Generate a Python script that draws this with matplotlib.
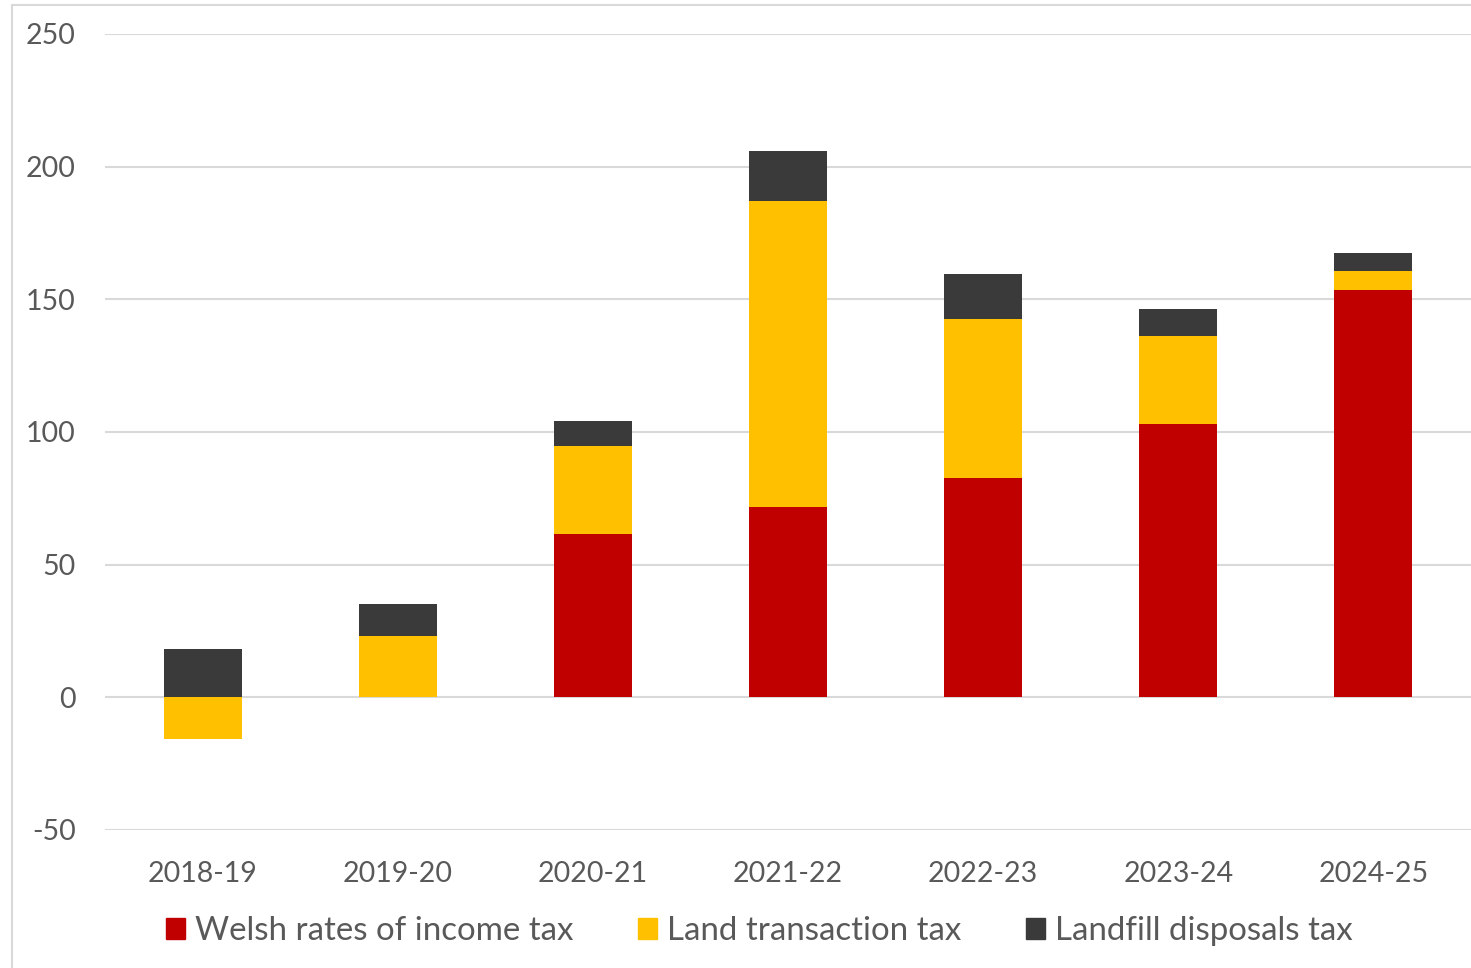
import numpy as np
import matplotlib.pyplot as plt
from matplotlib.patches import Rectangle, Patch

years = ['2018-19', '2019-20', '2020-21', '2021-22', '2022-23', '2023-24', '2024-25']
income_tax = [0.0, 0.0, 61.4, 71.9, 82.8, 103.2, 153.6]
land_tax = [-15.8, 23.3, 33.5, 115.2, 59.9, 33.1, 7.2]
landfill_tax = [18.4, 11.7, 9.4, 18.9, 16.9, 10.2, 6.7]
labels = ['Welsh rates of income tax', 'Land transaction tax', 'Landfill disposals tax']
colors = ['#C00000', '#FFC000', '#3A3A3A']

plt.rcParams['font.family'] = ['Lato', 'DejaVu Sans']
plt.rcParams['axes.unicode_minus'] = False
fig = plt.figure(figsize=(14.71, 9.68), dpi=100)
ax = fig.add_axes([105/1471, 1-830/968, 1-105/1471, (830-34)/968])

x = np.arange(len(years))
w = 0.4
inc = np.array(income_tax)
lt = np.array(land_tax)
lf = np.array(landfill_tax)
# positive parts stack upward, negative parts go down from zero
pos_base = np.zeros(len(years))
neg_base = np.zeros(len(years))
for vals, c in zip([inc, lt, lf], colors):
    base = np.where(vals >= 0, pos_base, neg_base)
    ax.bar(x, vals, w, bottom=base, color=c, zorder=3)
    pos_base = pos_base + np.where(vals >= 0, vals, 0)
    neg_base = neg_base + np.where(vals < 0, vals, 0)

ax.set_xlim(-0.5, len(years)-0.5)
ax.set_ylim(-50, 250)
ax.set_yticks(np.arange(-50, 251, 50))
ax.set_xticks(x)
ax.set_xticklabels(years)
ax.grid(axis='y', color='#D9D9D9', linewidth=1.5, zorder=0)
for s in ax.spines.values():
    s.set_visible(False)
ax.tick_params(length=0, labelsize=20.5, colors='#595959')
ax.tick_params(axis='y', pad=21)
ax.tick_params(axis='x', pad=22)

handles = [Patch(color=c) for c in colors]
fig.legend(handles, labels, loc='center', bbox_to_anchor=(0.516, 1-931/968), ncol=3,
           frameon=False, fontsize=23.8, labelcolor='#595959', handlelength=0.58,
           handleheight=0.58, handletextpad=0.3, columnspacing=1.95)

fig.patches.append(Rectangle((12/1471, -0.1), 1.2, 1.1-5/968, transform=fig.transFigure,
                             fill=False, edgecolor='#D9D9D9', linewidth=1.5))
fig.savefig('out.png', dpi=100)
